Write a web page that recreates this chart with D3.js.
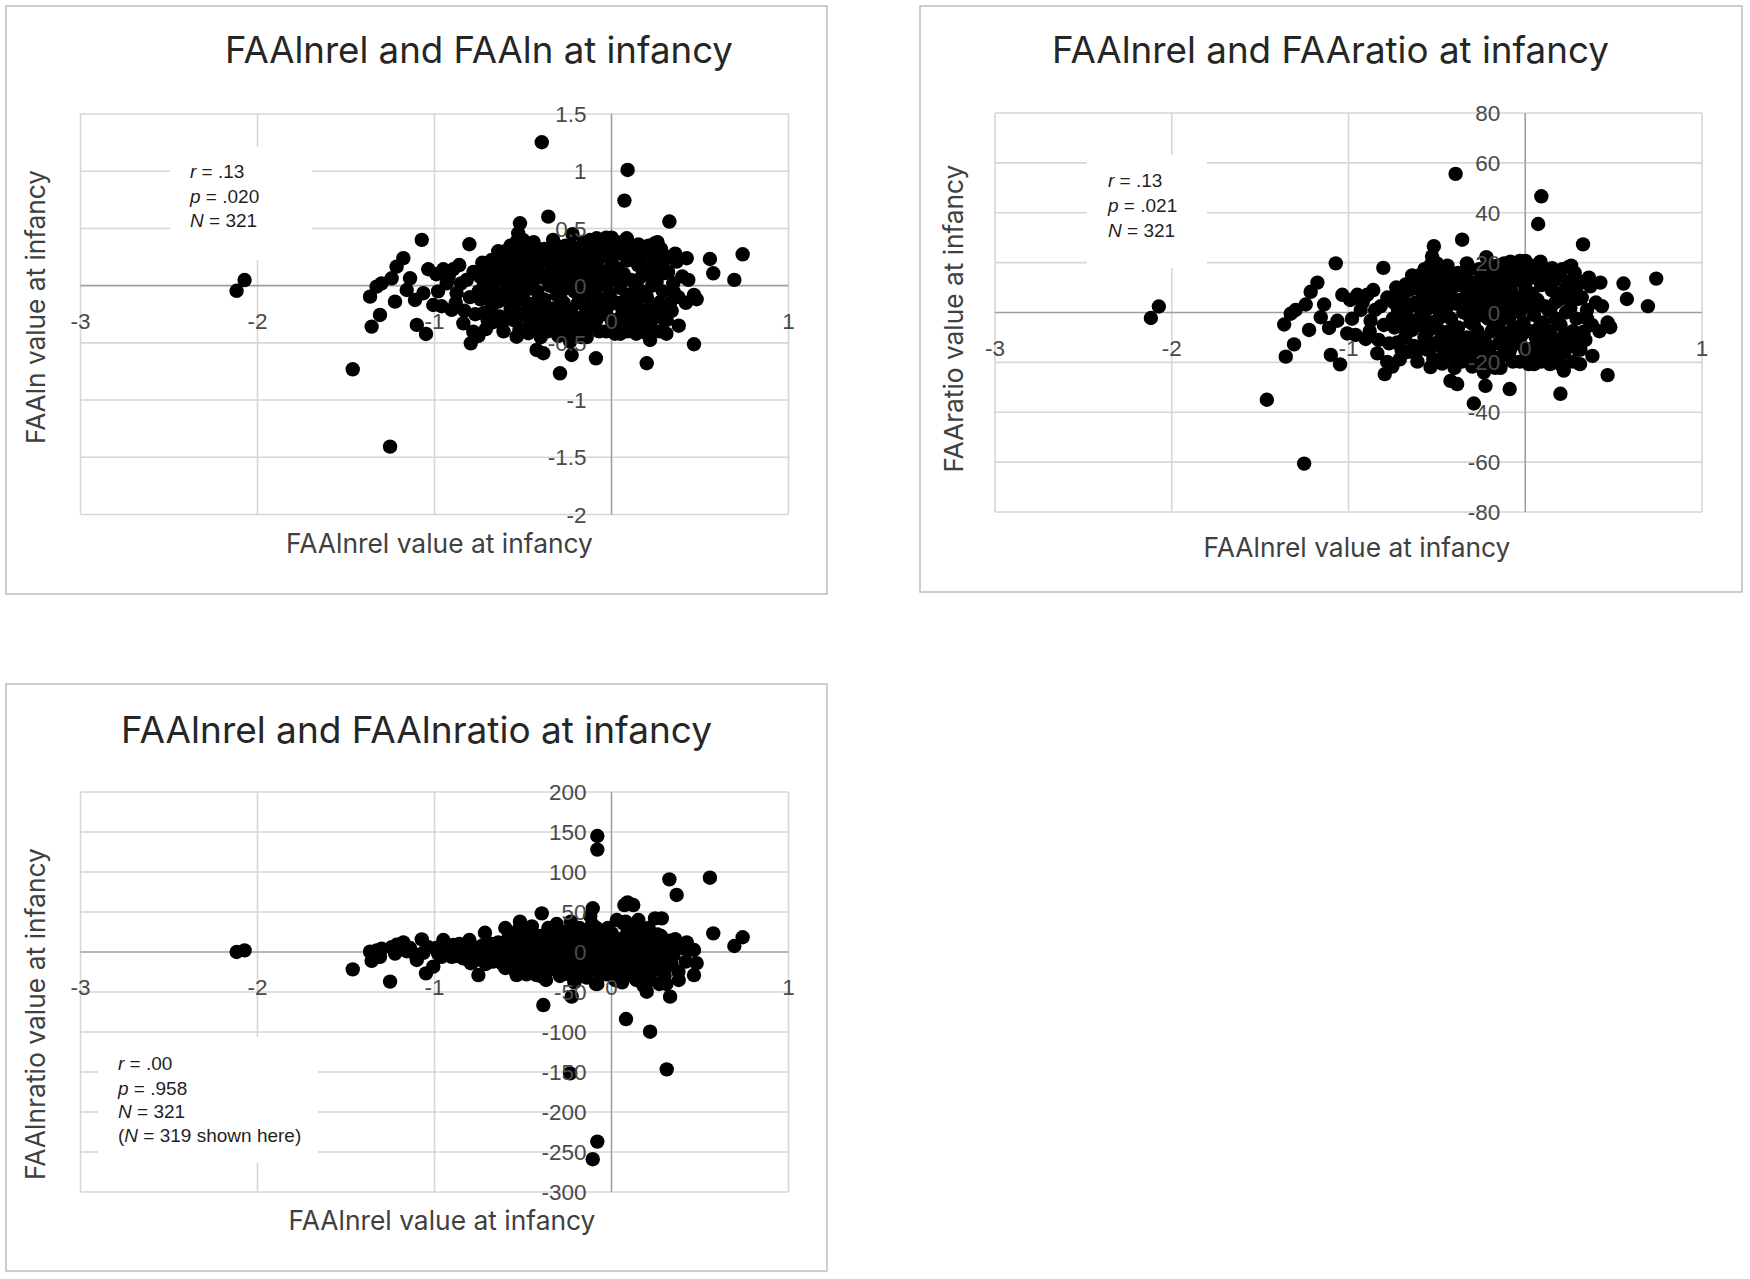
<!DOCTYPE html>
<html><head><meta charset="utf-8">
<script src="https://cdn.jsdelivr.net/npm/d3@7"></script>
<style>body{margin:0;background:#fff}svg{display:block}</style>
</head><body>
<svg id="c" width="1750" height="1279"></svg>
<script>
// ---------- DATA (shared subjects: FAAlnrel on x) ----------
const faalnrel = [
 -2.118,-2.073,-1.462,-1.251,-1.355,-1.308,-1.364,-1.327,-1.299,-1.242,-1.214,-1.176,-1.223,-1.138,
 -1.157,-1.100,-1.048,-1.035,-1.110,-1.063,-1.007,-1.072,-0.950,-0.894,-0.931,-0.903,-0.837,-0.781,
 -0.752,-0.795,-0.875,-0.818,-0.803,-0.743,-0.715,-0.677,-0.630,-0.555,-0.517,-0.527,-0.536,-0.507,
 -0.536,-0.470,-0.423,-0.385,-0.291,-0.724,-0.630,-0.555,-0.357,-0.394,0.091,0.073,0.327,0.741,
 0.694,0.556,0.575,0.425,0.466,0.481,0.466,0.199,-0.088,-0.225,-0.234,0.218,0.312,
 0.199,0.246,0.001,0.086,-0.084,-0.131,0.368,0.293,0.349,0.434,0.255,0.331,0.293,0.048,
 0.142,0.161,0.218,0.378,0.300,-0.080,-0.080,-0.080,-0.106,0.082,0.123,-0.106,-0.120,0.284,
 0.152,0.067,-0.150,0.050,
 -0.74,-0.72,-0.70,-0.69,-0.66,-0.68,-0.65,-0.71,
 -0.64,-0.62,-0.61,-0.60,-0.59,-0.58,-0.57,-0.56,-0.62,-0.60,
 -0.54,-0.53,-0.52,-0.51,-0.50,-0.49,-0.48,-0.47,-0.46,-0.45,-0.52,-0.50,-0.48,-0.46,-0.53,
 -0.44,-0.43,-0.42,-0.41,-0.40,-0.39,-0.38,-0.37,-0.36,-0.35,-0.44,-0.40,-0.38,
 -0.34,-0.33,-0.32,-0.31,-0.30,-0.29,-0.28,-0.27,-0.26,-0.25,-0.33,-0.30,-0.28,-0.26,
 -0.24,-0.23,-0.22,-0.21,-0.20,-0.19,-0.18,-0.17,-0.16,-0.15,-0.24,-0.22,-0.20,-0.18,
 -0.14,-0.13,-0.12,-0.11,-0.10,-0.09,-0.08,-0.07,-0.06,-0.05,-0.14,-0.12,-0.10,-0.06,
 -0.04,-0.03,-0.02,-0.01,0.00,0.01,0.02,0.03,0.04,0.05,-0.03,0.02,0.04,
 0.06,0.07,0.08,0.09,0.10,0.11,0.12,0.13,0.14,0.15,0.08,0.12,
 0.16,0.17,0.18,0.19,0.20,0.21,0.22,0.23,0.24,0.25,
 0.26,0.27,0.28,0.29,0.30,0.32,0.34,0.36,0.38,0.40,0.42,
 -0.98,-0.96,-0.92,-0.88,-0.85,-0.83,-0.80,-0.78,-0.77,-0.99,-0.86,
 -0.58,-0.55,-0.52,-0.49,-0.47,-0.44,-0.43,-0.41,-0.39,-0.37,
 -0.35,-0.34,-0.32,-0.31,-0.29,-0.27,-0.25,-0.23,-0.21,-0.19,
 -0.17,-0.15,-0.13,-0.11,-0.09,-0.07,-0.05,-0.03,-0.01,0.01,
 0.03,0.05,0.07,0.09,0.11,0.13,0.15,0.17,0.19,0.21,
 0.23,-0.62,-0.66,-0.70,-0.57,-0.42,-0.20,0.00,0.10,-0.10,
 -0.60,-0.56,-0.54,-0.51,-0.48,-0.45,-0.42,-0.40,-0.37,-0.34,
 -0.31,-0.29,-0.26,-0.23,-0.21,-0.18,-0.16,-0.13,-0.11,-0.08,
 -0.05,-0.02,0.01,0.03,0.06,0.09,0.12,0.15,0.18,0.21,
 0.02,0.05,0.08,0.11,0.14,0.17,0.20,0.24,0.27,0.31,0.33,0.26,0.35,
 -0.03,-0.09,-0.17,-0.27,-0.32,-0.47,-0.58,-0.67,-0.73,-0.64,-0.69,-0.75
];
const faaln = [
 -0.045,0.049,-0.731,-1.407,-0.358,-0.256,-0.096,-0.009,0.020,0.064,0.166,0.240,-0.140,0.064,
 -0.038,-0.343,-0.422,0.143,-0.125,-0.066,-0.169,0.400,0.143,0.143,0.020,-0.212,-0.329,-0.402,
 -0.440,-0.504,-0.066,0.050,0.362,0.079,0.152,0.225,0.196,0.225,0.545,0.458,0.385,0.327,
 -0.446,-0.416,-0.562,-0.591,-0.766,-0.241,-0.270,-0.300,0.603,1.253,1.011,0.743,0.560,0.274,
 0.050,0.233,0.108,0.240,-0.081,-0.119,-0.512,-0.678,-0.635,-0.606,-0.489,-0.475,-0.300,
 -0.300,0.371,0.420,0.414,0.414,0.356,0.210,0.210,0.021,0.050,0.035,-0.154,-0.212,-0.358,
 0.020,0.254,0.166,-0.100,0.110,0.120,0.090,-0.150,-0.200,-0.250,0.280,0.300,0.250,0.150,
 0.360,0.300,-0.100,0.050,
 -0.12,0.02,-0.30,0.10,-0.05,-0.20,0.05,-0.38,
 -0.14,0.08,-0.40,0.25,-0.02,0.15,-0.20,0.02,-0.33,0.30,
 0.10,-0.08,0.20,-0.25,0.03,0.28,-0.15,0.12,-0.35,0.00,-0.38,0.40,0.35,0.22,0.30,
 -0.22,0.16,-0.05,0.30,-0.30,0.07,-0.12,0.22,-0.40,0.00,0.38,-0.45,0.32,
 0.12,-0.20,0.25,-0.08,0.05,-0.32,0.18,-0.15,0.35,-0.02,0.40,-0.44,-0.25,0.08,
 0.15,-0.22,0.28,-0.05,0.05,-0.35,0.20,-0.12,0.38,0.00,-0.42,0.45,-0.28,0.10,
 0.22,-0.18,0.08,-0.30,0.32,-0.05,0.18,-0.40,0.02,0.26,-0.45,0.40,-0.22,-0.12,
 0.12,-0.25,0.35,-0.08,0.20,-0.35,0.05,-0.15,0.28,-0.02,0.42,-0.42,0.15,
 -0.20,0.10,-0.30,0.22,-0.08,0.35,-0.38,0.02,-0.15,0.18,0.40,-0.25,
 -0.25,0.08,-0.40,0.30,-0.10,0.15,-0.32,0.00,0.25,-0.18,
 0.10,-0.40,0.32,-0.05,-0.30,0.12,-0.22,0.28,-0.35,0.08,-0.15,
 -0.05,-0.18,0.08,-0.15,0.02,-0.22,-0.10,0.12,-0.25,0.10,0.18,
 0.06,-0.15,0.12,-0.05,0.25,0.05,-0.15,0.20,-0.22,0.10,
 -0.28,0.30,-0.02,0.18,-0.10,0.25,-0.30,0.05,0.22,-0.15,
 0.30,-0.25,0.12,-0.02,0.25,-0.18,0.08,0.00,0.25,-0.15,
 0.12,-0.28,0.30,-0.10,0.05,-0.20,0.30,-0.05,0.10,-0.20,
 0.20,-0.08,0.18,-0.02,0.35,-0.35,-0.40,-0.30,-0.35,0.10,
 -0.10,0.18,-0.30,0.08,-0.22,0.30,0.12,-0.18,-0.30,0.05,
 0.35,0.10,-0.20,0.35,-0.35,-0.02,0.28,-0.35,0.15,-0.28,
 0.35,-0.18,0.10,0.38,0.05,-0.40,0.25,-0.30,0.15,0.35,
 -0.32,-0.42,-0.12,-0.28,-0.42,-0.30,-0.42,-0.28,-0.15,-0.42,0.25,0.38,-0.05,
 -0.40,-0.32,-0.45,-0.38,-0.35,-0.28,-0.28,-0.32,0.20,0.30,-0.12,-0.05
];
const faaratio = [
 -2.2,2.4,-35.0,-60.6,-17.7,-12.8,-4.8,-0.5,1.0,3.2,8.3,12.0,-7.0,3.2,
 -1.9,-17.0,-20.8,7.1,-6.2,-3.3,-8.4,19.7,7.1,7.1,1.0,-10.6,-16.4,-19.8,
 -21.7,-24.7,-3.3,2.5,17.9,3.9,7.6,11.2,9.8,11.2,26.6,22.5,19.0,16.3,
 -21.9,-20.5,-27.4,-28.7,-36.5,-12.0,-13.4,-14.9,29.2,55.6,46.6,35.5,27.3,13.6,
 2.5,11.6,5.4,12.0,-4.0,-5.9,-25.1,-32.6,-30.7,-29.4,-24.0,-23.3,-14.9,
 -14.9,18.3,20.7,20.4,20.4,17.6,10.5,10.5,1.0,2.5,1.7,-7.7,-10.6,-17.7,
 1.0,12.7,8.3,-5.0,5.5,6.0,4.5,-7.5,-10.0,-12.5,14.0,14.9,12.5,7.5,
 17.8,14.9,-5.0,2.5,
 -6.0,1.0,-14.9,5.0,-2.5,-10.0,2.5,-18.8,
 -7.0,4.0,-19.7,12.4,-1.0,7.5,-10.0,1.0,-16.4,14.9,
 5.0,-4.0,10.0,-12.4,1.5,14.0,-7.5,6.0,-17.4,0.0,-18.8,19.7,17.4,11.0,14.9,
 -11.0,8.0,-2.5,14.9,-14.9,3.5,-6.0,11.0,-19.7,0.0,18.8,-22.2,15.9,
 6.0,-10.0,12.4,-4.0,2.5,-15.9,9.0,-7.5,17.4,-1.0,19.7,-21.7,-12.4,4.0,
 7.5,-11.0,14.0,-2.5,2.5,-17.4,10.0,-6.0,18.8,0.0,-20.7,22.2,-14.0,5.0,
 11.0,-9.0,4.0,-14.9,15.9,-2.5,9.0,-19.7,1.0,13.0,-22.2,19.7,-11.0,-6.0,
 6.0,-12.4,17.4,-4.0,10.0,-17.4,2.5,-7.5,14.0,-1.0,20.7,-20.7,7.5,
 -10.0,5.0,-14.9,11.0,-4.0,17.4,-18.8,1.0,-7.5,9.0,19.7,-12.4,
 -12.4,4.0,-19.7,14.9,-5.0,7.5,-15.9,0.0,12.4,-9.0,
 5.0,-19.7,15.9,-2.5,-14.9,6.0,-11.0,14.0,-17.4,4.0,-7.5,
 -2.5,-9.0,4.0,-7.5,1.0,-11.0,-5.0,6.0,-12.4,5.0,9.0,
 3.0,-7.5,6.0,-2.5,12.4,2.5,-7.5,10.0,-11.0,5.0,
 -14.0,14.9,-1.0,9.0,-5.0,12.4,-14.9,2.5,11.0,-7.5,
 14.9,-12.4,6.0,-1.0,12.4,-9.0,4.0,0.0,12.4,-7.5,
 6.0,-14.0,14.9,-5.0,2.5,-10.0,14.9,-2.5,5.0,-10.0,
 10.0,-4.0,9.0,-1.0,17.4,-17.4,-19.7,-14.9,-17.4,5.0,
 -5.0,9.0,-14.9,4.0,-11.0,14.9,6.0,-9.0,-14.9,2.5,
 17.4,5.0,-10.0,17.4,-17.4,-1.0,14.0,-17.4,7.5,-14.0,
 17.4,-9.0,5.0,18.8,2.5,-19.7,12.4,-14.9,7.5,17.4,
 -15.9,-20.7,-6.0,-14.0,-20.7,-14.9,-20.7,-14.0,-7.5,-20.7,12.4,18.8,-2.5,
 -19.7,-15.9,-22.2,-18.8,-17.4,-14.0,-14.0,-15.9,10.0,14.9,-6.0,-2.5
];
const faalnratio = [
 0,2,-21.7,-37,-11,-6,0.4,2,4,6,9,12,-2,5,
 1,-10,-26.7,6,-3,-1,-18.3,15.8,15,8.8,2,-6,-8,-12,
 -28.8,-14,-2,3,15,5,24,10,8,9,37.9,27.5,20,15,
 -28.8,-20,-28.8,-66.3,-30,-8,-10,-12,30,48.3,62,58.7,90.8,18.4,
 7.5,92.9,23.3,12,2.5,-14,-28.8,-49.6,-40,-55.8,-151.7,-99.6,-146.7,
 -20,42,23.4,35.8,30,20,71.3,10,2.5,2.5,5,-55.8,-24.6,-30,
 2,15,12,-24.6,-20.4,145,128,-237,-259,-83.8,58.7,54.6,45,42,
 40,35.8,-420,330,
 -4,1,-12,6,-2,-9,3,-15,
 -5,4,-16,12,-1,20,-8,2,-14,30,
 5,-3,10,-12,1,14,-6,8,-18,0,-20,25,18,12,16,
 -10,8,-2,16,-15,4,-5,12,-22,1,22,-30,18,
 6,-9,13,-3,2,-16,10,-7,20,0,24,-25,-12,4,
 8,-11,15,-2,3,-18,10,-5,22,0,-28,30,-14,5,
 12,-8,4,-15,18,-2,9,-25,1,14,-32,25,-11,-6,
 6,-12,20,-4,10,-20,3,-7,16,-1,28,-35,8,
 -10,5,-18,12,-4,22,-30,1,-8,10,38,-20,
 -18,4,-35,18,-5,8,-28,0,14,-12,
 6,-40,20,-3,-30,8,-15,16,-35,5,-12,
 -2,-6,4,-5,1,-8,-3,6,-10,5,10,
 3,-7,6,-2,13,2,-7,10,-10,5,
 -13,16,-1,9,-5,13,-15,2,11,-7,
 16,-12,6,-1,13,-9,4,0,13,-7,
 6,-15,17,-5,2,-12,18,-3,6,-14,
 12,-3,9,-1,18,-18,-24,-18,-25,5,
 -20,22,-25,15,-28,32,-18,20,-35,28,
 35,-22,25,38,-38,30,-20,22,35,-40,
 -25,30,-30,40,-38,25,-28,32,-42,30,
 -22,-30,-8,-20,-35,-25,-38,-22,-10,-40,14,22,-4,
 -28,-20,-30,-25,-22,-16,-14,-12,8,12,-4,-2
];

const xTicks = [-3, -2, -1, 0, 1];
const yTicksLn = [-2, -1.5, -1, -0.5, 0, 0.5, 1, 1.5];
const yTicksRatio = [-80, -60, -40, -20, 0, 20, 40, 60, 80];
const yTicksLnRatio = [-300, -250, -200, -150, -100, -50, 0, 50, 100, 150, 200];

const chartTitles = ["FAAlnrel and FAAln at infancy", "FAAlnrel and FAAratio at infancy", "FAAlnrel and FAAlnratio at infancy"];
const xTitle = "FAAlnrel value at infancy";
const yTitles = ["FAAln value at infancy", "FAAratio value at infancy", "FAAlnratio value at infancy"];
const statLines = [
  [[["r",1],[" = .13",0]], [["p",1],[" = .020",0]], [["N",1],[" = 321",0]]],
  [[["r",1],[" = .13",0]], [["p",1],[" = .021",0]], [["N",1],[" = 321",0]]],
  [[["r",1],[" = .00",0]], [["p",1],[" = .958",0]], [["N",1],[" = 321",0]], [["(",0],["N",1],[" = 319 shown here)",0]]]
];

// ---------- LAYOUT ----------
const panels = [
  { box:[6,6,821,588], plot:{l:80.5,r:788.5,t:114,b:514.5}, yDom:[-2,1.5], yTicks:yTicksLn, ys:faaln,
    title:{x:479,y:63,w:508}, xt:{x:439.5,y:553}, yt:{x:36,y:307,w:274},
    sbox:[170,147,142,113], stx:190, sty:[178,202.5,227] },
  { box:[920,6,822,586], plot:{l:995,r:1702,t:113,b:512}, yDom:[-80,80], yTicks:yTicksRatio, ys:faaratio,
    title:{x:1330.5,y:63,w:557}, xt:{x:1357,y:557}, yt:{x:954,y:318.6,w:308},
    sbox:[1087,155,120,113], stx:1108, sty:[187,212,237] },
  { box:[6,684,821,587], plot:{l:80.5,r:788.5,t:792,b:1192}, yDom:[-300,200], yTicks:yTicksLnRatio, ys:faalnratio,
    title:{x:416.5,y:743,w:591}, xt:{x:442,y:1230}, yt:{x:36,y:1014,w:332},
    sbox:[98,1037,220,126], stx:118, sty:[1070,1095,1118,1142] }
];

const svg = d3.select("#c");
svg.append("rect").attr("width",1750).attr("height",1279).attr("fill","#fff");

function fitWidth(sel, target){
  const w = sel.node().getComputedTextLength();
  const fs = parseFloat(sel.attr("font-size"));
  sel.attr("font-size", (fs*target/w).toFixed(2));
}

panels.forEach((p,i)=>{
  const g = svg.append("g");
  g.append("rect").attr("x",p.box[0]).attr("y",p.box[1]).attr("width",p.box[2]).attr("height",p.box[3])
    .attr("fill","#fff").attr("stroke","#bdbdbd").attr("stroke-width",1.5);

  const x = d3.scaleLinear().domain([-3,1]).range([p.plot.l,p.plot.r]);
  const y = d3.scaleLinear().domain(p.yDom).range([p.plot.b,p.plot.t]);

  // gridlines
  const grid = g.append("g").attr("stroke","#d6d6d6").attr("stroke-width",1.6);
  p.yTicks.filter(v=>v!==0).forEach(v=>grid.append("line").attr("x1",p.plot.l).attr("x2",p.plot.r).attr("y1",y(v)).attr("y2",y(v)));
  xTicks.filter(v=>v!==0).forEach(v=>grid.append("line").attr("x1",x(v)).attr("x2",x(v)).attr("y1",p.plot.t).attr("y2",p.plot.b));

  // stats box (white, masks gridlines)
  g.append("rect").attr("x",p.sbox[0]).attr("y",p.sbox[1]).attr("width",p.sbox[2]).attr("height",p.sbox[3]).attr("fill","#fff");

  // axis lines through zero
  const ax = g.append("g").attr("stroke","#9e9e9e").attr("stroke-width",1.6);
  ax.append("line").attr("x1",p.plot.l).attr("x2",p.plot.r).attr("y1",y(0)).attr("y2",y(0));
  ax.append("line").attr("x1",x(0)).attr("x2",x(0)).attr("y1",p.plot.t).attr("y2",p.plot.b);

  // points
  const pts = faalnrel.map((xv,k)=>({x:xv, y:p.ys[k]})).filter(d=>d.y>=p.yDom[0] && d.y<=p.yDom[1]);
  g.append("g").selectAll("circle").data(pts).join("circle")
    .attr("cx",d=>x(d.x)).attr("cy",d=>y(d.y)).attr("r",7.2).attr("fill","#000");

  // tick labels (drawn above points, as in the reference)
  const lab = g.append("g").attr("font-family","'Liberation Sans', Arial, sans-serif").attr("font-size",22.5).attr("fill","#4a4a4a");
  xTicks.forEach(v=>lab.append("text").attr("x",x(v)).attr("y",y(0)+43).attr("text-anchor","middle").text(String(v)));
  p.yTicks.forEach(v=>lab.append("text").attr("x",x(0)-25).attr("y",y(v)).attr("dy","0.36em").attr("text-anchor","end").text(String(v)));

  // stats text
  const st = g.append("g").attr("font-family","'Liberation Sans', Arial, sans-serif").attr("font-size",19).attr("fill","#1f1f1f");
  statLines[i].forEach((line,li)=>{
    const t = st.append("text").attr("x",p.stx).attr("y",p.sty[li]);
    line.forEach(seg=>t.append("tspan").attr("font-style",seg[1]?"italic":"normal").text(seg[0]));
  });

  // titles
  const tf = "Inter, 'Open Sans', sans-serif";
  const tt = g.append("text").attr("x",p.title.x).attr("y",p.title.y).attr("text-anchor","middle")
    .attr("font-family",tf).attr("font-size",34).attr("fill","#262626").text(chartTitles[i]);
  fitWidth(tt,p.title.w);
  const xtt = g.append("text").attr("x",p.xt.x).attr("y",p.xt.y).attr("text-anchor","middle")
    .attr("font-family",tf).attr("font-size",24).attr("fill","#404040").text(xTitle);
  fitWidth(xtt,307);
  const ytt = g.append("text").attr("transform",`translate(${p.yt.x},${p.yt.y}) rotate(-90)`).attr("text-anchor","middle").attr("dy","0.35em")
    .attr("font-family",tf).attr("font-size",24).attr("fill","#404040").text(yTitles[i]);
  fitWidth(ytt,p.yt.w);
});
</script>
</body></html>
